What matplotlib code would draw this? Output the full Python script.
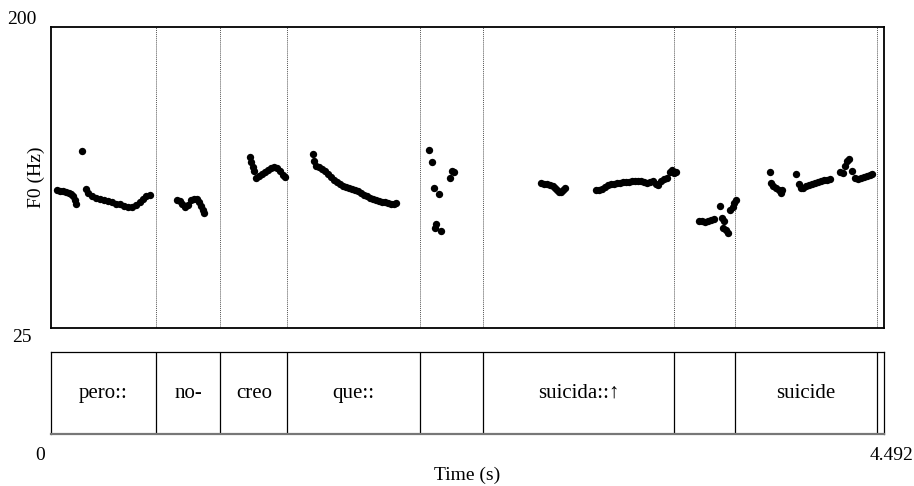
import matplotlib

matplotlib.use("Agg")
import matplotlib.pyplot as plt

plt.rcParams["font.family"] = ["Liberation Serif", "DejaVu Serif"]

T_MAX = 4.492
F_MIN, F_MAX = 25, 200

# pitch track (time in s, F0 in Hz)
pitch_t = [
    0.032, 0.049, 0.065, 0.081, 0.097, 0.108, 0.119, 0.129, 0.135,
    0.167,
    0.189, 0.200, 0.221, 0.243, 0.264, 0.286, 0.307, 0.329, 0.351, 0.372,
    0.394, 0.415, 0.437, 0.458, 0.480, 0.496, 0.512, 0.534,
    0.680, 0.696, 0.706, 0.723, 0.739, 0.755, 0.771, 0.787, 0.798, 0.809,
    0.820, 0.825,
    1.073, 1.079, 1.089, 1.095, 1.106, 1.122, 1.138, 1.154, 1.170, 1.186,
    1.203, 1.219, 1.235, 1.251, 1.262,
    1.413, 1.418, 1.429, 1.445, 1.461, 1.478, 1.494, 1.510, 1.526, 1.542,
    1.559, 1.575, 1.591, 1.607, 1.623, 1.639, 1.656, 1.672, 1.688, 1.704,
    1.720, 1.737, 1.753, 1.769, 1.785, 1.801, 1.817, 1.834, 1.850, 1.861,
    2.039, 2.055, 2.066, 2.071, 2.076, 2.092, 2.103, 2.152, 2.163, 2.173,
    2.643, 2.659, 2.675, 2.691, 2.707, 2.718, 2.729, 2.740, 2.750, 2.761,
    2.772,
    2.939, 2.955, 2.972, 2.988, 3.004, 3.020, 3.036, 3.052, 3.069, 3.085,
    3.101, 3.117, 3.133, 3.149, 3.166, 3.182, 3.198, 3.214, 3.230, 3.247,
    3.263, 3.274, 3.290, 3.306, 3.322, 3.338, 3.349, 3.360, 3.371,
    3.495, 3.511, 3.527, 3.543, 3.559, 3.576, 3.608, 3.619, 3.624, 3.629,
    3.640, 3.651, 3.662, 3.678, 3.683, 3.694,
    3.878, 3.883, 3.894, 3.910, 3.926, 3.937, 3.942,
    4.018, 4.034, 4.045, 4.056, 4.072, 4.088, 4.104, 4.120, 4.136, 4.153,
    4.169, 4.185, 4.201,
    4.255, 4.271, 4.282, 4.293, 4.304, 4.320, 4.336, 4.352, 4.368, 4.385,
    4.401, 4.417, 4.428,
]
pitch_hz = [
    105.2, 104.7, 104.7, 104.1, 103.5, 102.9, 101.7, 99.4, 97.1,
    127.9,
    105.8, 103.5, 101.7, 100.6, 100.0, 99.4, 98.8, 98.3, 97.1, 97.1,
    95.9, 95.3, 95.3, 96.5, 98.3, 100.0, 101.7, 102.3,
    99.4, 98.8, 97.1, 95.3, 96.5, 99.4, 100.0, 100.0, 98.3, 95.9,
    93.6, 91.9,
    124.4, 121.5, 118.6, 116.3, 112.2, 113.4, 114.5, 115.7, 116.9, 118.0,
    118.6, 118.0, 116.3, 114.0, 112.8,
    126.2, 122.1, 119.2, 118.6, 117.4, 116.3, 114.5, 112.8, 111.0, 109.9,
    108.7, 107.6, 107.0, 106.4, 105.8, 105.2, 104.7, 103.5, 102.3, 101.7,
    100.6, 100.0, 99.4, 98.8, 98.3, 98.3, 97.7, 97.1, 97.1, 97.7,
    128.5, 121.5, 106.4, 83.1, 85.5, 102.9, 81.4, 112.2, 116.3, 115.7,
    109.3, 108.7, 108.7, 108.1, 107.6, 106.4, 105.2, 104.1, 104.1, 105.2,
    106.4,
    105.2, 105.2, 105.8, 107.0, 108.1, 108.7, 108.7, 109.3, 109.3, 109.9,
    109.9, 109.9, 110.5, 110.5, 110.5, 110.5, 109.9, 109.3, 109.9, 110.5,
    108.7, 108.1, 110.5, 111.6, 112.2, 115.7, 116.9, 115.1, 115.7,
    87.2, 87.2, 86.6, 87.2, 87.8, 88.4, 95.9, 89.0, 83.1, 87.2,
    82.0, 80.2, 93.6, 95.3, 97.7, 99.4,
    115.7, 109.3, 107.6, 106.4, 105.2, 103.5, 105.2,
    114.5, 108.7, 106.4, 106.4, 107.6, 108.1, 108.7, 109.3, 109.9, 110.5,
    111.0, 111.0, 111.6,
    115.7, 115.1, 119.2, 122.1, 123.3, 116.3, 112.2, 111.6, 112.2, 112.8,
    113.4, 114.0, 114.5,
]

# word tier
boundaries = [0.564, 0.913, 1.274, 1.988, 2.330, 3.361, 3.691, 4.452]
words = ["pero::", "no-", "creo", "que::", "", "suicida::\u2191", "", "suicide", ""]

W, H = 914, 486
fig = plt.figure(figsize=(W / 100, H / 100), dpi=100)


def box(x0, y0, x1, y1):
    # pixel box (top-left origin) -> figure fraction rect
    return [x0 / W, 1 - y1 / H, (x1 - x0) / W, (y1 - y0) / H]


ax = fig.add_axes(box(51, 27, 884, 328))
ax.scatter(pitch_t, pitch_hz, s=28, color="black", linewidths=0, zorder=3)
for b in boundaries:
    ax.axvline(b, color="#555555", linestyle=(0, (1, 1)), linewidth=0.7)
ax.set_xlim(0, T_MAX)
ax.set_ylim(F_MIN, F_MAX)
ax.set_xticks([])
ax.set_yticks([])
for side in ax.spines.values():
    side.set_linewidth(1.3)
    side.set_color("black")

tier = fig.add_axes(box(51, 352, 884, 434))
edges = [0.0] + boundaries + [T_MAX]
for b in boundaries:
    tier.axvline(b, color="black", linewidth=0.9)
for left, right, word in zip(edges[:-1], edges[1:], words):
    if word:
        tier.text((left + right) / 2, 0.5, word, ha="center", va="center",
                  fontsize=15, family=["Liberation Serif", "DejaVu Serif"])
tier.set_xlim(0, T_MAX)
tier.set_ylim(0, 1)
tier.set_xticks([])
tier.set_yticks([])
for side in tier.spines.values():
    side.set_linewidth(0.9)
    side.set_color("black")
tier.spines["bottom"].set_color("#777777")
tier.spines["bottom"].set_linewidth(1.6)

fs = 14
fig.text(22 / W, 1 - 20 / H, f"{F_MAX}", ha="center", va="center", fontsize=fs)
fig.text(22 / W, 1 - 337 / H, f"{F_MIN}", ha="center", va="center", fontsize=fs)
fig.text(36 / W, 1 - 177 / H, "F0 (Hz)", ha="center", va="center",
         rotation=90, fontsize=fs)
fig.text(40 / W, 1 - 455 / H, "0", ha="center", va="center", fontsize=fs)
fig.text(913 / W, 1 - 455 / H, f"{T_MAX}", ha="right", va="center", fontsize=fs)
fig.text(467 / W, 1 - 475 / H, "Time (s)", ha="center", va="center", fontsize=fs)

fig.savefig("out.png", dpi=100)
